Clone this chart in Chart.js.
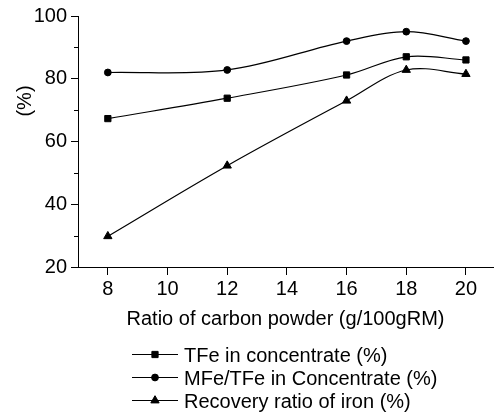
<!DOCTYPE html>
<html><head><meta charset="utf-8">
<script src="https://cdn.jsdelivr.net/npm/chart.js@4"></script>
<style>html,body{margin:0;padding:0;background:#fff;}#wrap{width:494px;height:417px;position:relative;}</style>
</head><body><div id="wrap"><canvas id="c" width="494" height="417"></canvas></div>
<script>
const xCategories = [8, 12, 16, 18, 20];
const tfeConcentrate = [67.3, 73.8, 81.2, 87.0, 86.0];
const mfeTfeConcentrate = [82.0, 82.8, 92.0, 95.0, 92.0];
const recoveryIron = [29.8, 52.3, 73.0, 82.8, 81.5];
const seriesLabels = ['TFe in concentrate (%)', 'MFe/TFe in Concentrate (%)', 'Recovery ratio of iron (%)'];
const xTickValues = [8, 10, 12, 14, 16, 18, 20];
const yTickValues = [20, 40, 60, 80, 100];
const yMinorTickValues = [30, 50, 70, 90];
const xTitle = 'Ratio of carbon powder (g/100gRM)';
const yTitle = '(%)';

const FONT = '"Liberation Sans", Arial, Helvetica, sans-serif';
const FS = 20;

function toPoints(vals){ return xCategories.map((x,i)=>({x:x,y:vals[i]})); }

const styles = [
  {pointStyle:'rect', pointRadius:4.4},
  {pointStyle:'circle', pointRadius:3.4},
  {pointStyle:'triangle', pointRadius:4.8}
];
const seriesValues = [tfeConcentrate, mfeTfeConcentrate, recoveryIron];

const datasets = seriesValues.map((vals,i)=>({
  label: seriesLabels[i],
  data: toPoints(vals),
  borderColor:'#000', backgroundColor:'#000', borderWidth:1.2,
  pointStyle: styles[i].pointStyle, pointRadius: styles[i].pointRadius,
  pointBorderWidth:1, pointBackgroundColor:'#000', pointBorderColor:'#000',
  tension:0.35, clip:false
}));

function noPad(s){ s.paddingLeft = 0; s.paddingRight = 0; s.paddingTop = 0; s.paddingBottom = 0; }

const extras = {
  id:'extras',
  afterDraw(chart){
    const ctx = chart.ctx;
    const ys = chart.scales.y;
    ctx.save();
    ctx.strokeStyle = '#000'; ctx.lineWidth = 1;
    yMinorTickValues.forEach(v=>{
      const py = Math.round(ys.getPixelForValue(v)) + 0.5;
      ctx.beginPath(); ctx.moveTo(ys.right - 4, py); ctx.lineTo(ys.right, py); ctx.stroke();
    });
    ctx.fillStyle = '#000';
    ctx.font = FS + 'px ' + FONT;
    ctx.textAlign = 'center'; ctx.textBaseline = 'alphabetic';
    ctx.fillText(xTitle, 285.5, 325);
    ctx.save();
    ctx.translate(31, 101); ctx.rotate(-Math.PI/2);
    ctx.textAlign = 'center'; ctx.textBaseline = 'alphabetic';
    ctx.fillText(yTitle, 0, 0);
    ctx.restore();
    const rowBase = [362, 385, 408];
    chart.data.datasets.forEach((ds,i)=>{
      const ly = rowBase[i] - 7.5;
      ctx.beginPath(); ctx.moveTo(132, ly); ctx.lineTo(178, ly); ctx.stroke();
      Chart.helpers.drawPoint(ctx, {pointStyle: ds.pointStyle, radius: ds.pointRadius, borderWidth:1}, 155, ly);
      ctx.textAlign = 'left';
      ctx.fillText(ds.label, 184, rowBase[i]);
    });
    ctx.restore();
  }
};

new Chart(document.getElementById('c'), {
  type:'line',
  data:{datasets:datasets},
  plugins:[extras],
  options:{
    responsive:false, animation:false, devicePixelRatio:1,
    layout:{autoPadding:false, padding:{top:16,right:0,left:0,bottom:0}},
    plugins:{legend:{display:false}, tooltip:{enabled:false}},
    scales:{
      x:{type:'linear', min:7, max:20.94,
        afterBuildTicks:s=>{s.ticks = xTickValues.map(v=>({value:v}));},
        afterFit:s=>{s.height = 150; noPad(s);},
        ticks:{color:'#000', font:{family:FONT,size:FS}, padding:2, maxRotation:0, autoSkip:false},
        grid:{drawOnChartArea:false, drawTicks:true, tickLength:8, color:'#000', tickWidth:1},
        border:{display:true, color:'#000', width:1}
      },
      y:{type:'linear', min:20, max:100,
        afterBuildTicks:s=>{s.ticks = yTickValues.map(v=>({value:v}));},
        afterFit:s=>{s.width = 78; noPad(s);},
        ticks:{color:'#000', font:{family:FONT,size:FS}, padding:4},
        grid:{drawOnChartArea:false, drawTicks:true, tickLength:7, color:'#000', tickWidth:1},
        border:{display:true, color:'#000', width:1}
      }
    }
  }
});
</script></body></html>
